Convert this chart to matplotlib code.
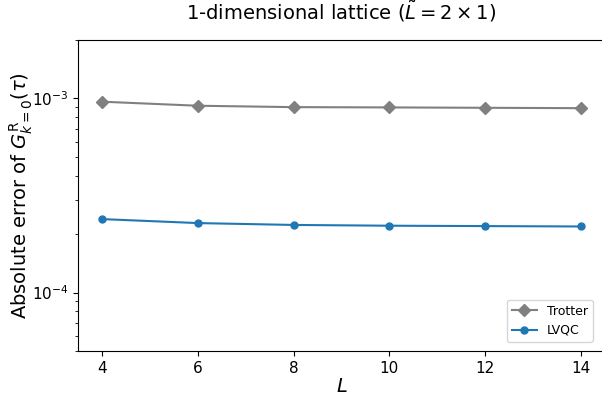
import matplotlib
matplotlib.use("Agg")
import matplotlib.pyplot as plt

L = [4, 6, 8, 10, 12, 14]
trotter_err = [9.62e-4, 9.17e-4, 9.02e-4, 8.99e-4, 8.95e-4, 8.91e-4]
lvqc_err = [2.39e-4, 2.28e-4, 2.23e-4, 2.21e-4, 2.20e-4, 2.19e-4]

fig = plt.figure(figsize=(6.02, 4.03), dpi=100)
ax = fig.add_axes([78.3 / 602, 52 / 403, 526.2 / 602, 311 / 403])

ax.plot(L, trotter_err, marker='D', color='gray', markersize=6, label='Trotter')
ax.plot(L, lvqc_err, marker='o', color='C0', markersize=5, label='LVQC')

ax.set_yscale('log')
ax.set_ylim(5e-5, 2e-3)
ax.set_xlim(3.5, 14.5)
ax.set_xticks(L)
ax.tick_params(labelsize=11)

ax.set_xlabel(r'$L$', fontsize=14, labelpad=1)
ax.set_ylabel(r'Absolute error of $G^{\mathrm{R}}_{k=0}(\tau)$', fontsize=14, labelpad=-2)
ax.set_title(r'1-dimensional lattice ($\tilde{L}=2\times 1$)', fontsize=14, pad=15)
ax.legend(loc='lower right', fontsize=9, bbox_to_anchor=(0.978, 0.029), borderaxespad=0)

fig.savefig('out.png', dpi=100)
